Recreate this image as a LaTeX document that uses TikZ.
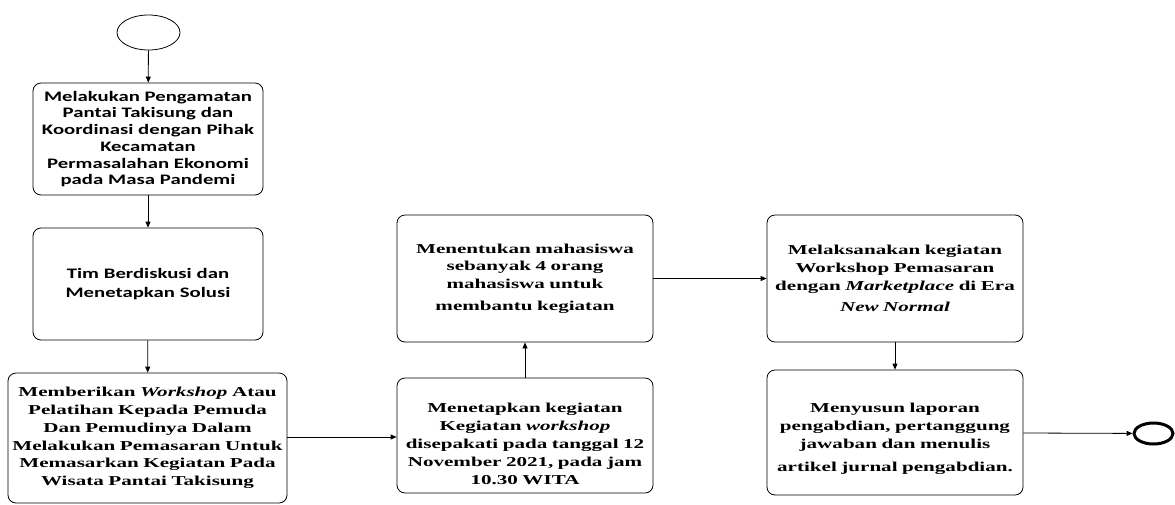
\documentclass[tikz,border=0pt]{standalone}
\usepackage{fontspec}
\usepackage{tikz}
\usetikzlibrary{shapes.geometric,arrows.meta,positioning}
\newfontfamily\calibrifont[FakeStretch=1.43]{Carlito Bold}
\newfontfamily\timesfont[FakeStretch=1.55, ItalicFont={Liberation Serif Bold Italic}]{Liberation Serif Bold}
\tikzset{
	box/.style={draw, rounded corners=8pt, line width=0.8pt, align=center, inner sep=0pt},
	sansbox/.style={box, font=\calibrifont\fontsize{14.5}{16.7}\selectfont},
	serifbox/.style={box, font=\timesfont\fontsize{13.6}{17.8}\selectfont},
	flow/.style={-{Triangle[length=6pt,width=5pt]}, line width=0.8pt},
}
\begin{document}
\begin{tikzpicture}[x=1pt,y=-1pt]
	\useasboundingbox (0,0) rectangle (1175,504);
	\node[draw, ellipse, line width=0.8pt, minimum width=63pt, minimum height=35pt] (start) at (148.5,32.5) {};
	\node[sansbox, minimum width=230pt, minimum height=112pt, text width=226pt] (b1) at (148,139) {Melakukan Pengamatan\\ Pantai Takisung dan\\ Koordinasi dengan Pihak\\ Kecamatan\\ Permasalahan Ekonomi\\ pada Masa Pandemi};
	\node[sansbox, minimum width=230pt, minimum height=112pt, text width=226pt] (b2) at (148,284) {Tim Berdiskusi dan\\[1.5pt] Menetapkan Solusi};
	\node[serifbox, minimum width=279pt, minimum height=130pt, text width=275pt] (b3) at (147.5,438) {Memberikan \textit{Workshop} Atau\\ Pelatihan Kepada Pemuda\\ Dan Pemudinya Dalam\\ Melakukan Pemasaran Untuk\\ Memasarkan Kegiatan Pada\\ Wisata Pantai Takisung};
	\node[serifbox, minimum width=256pt, minimum height=115pt, text width=250pt] (b4) at (525,435.5) {\rule{0pt}{26pt}Menetapkan kegiatan\\ Kegiatan \textit{workshop}\\ disepakati pada tanggal 12\\ November 2021, pada jam\\ 10.30 WITA};
	\node[serifbox, minimum width=256pt, minimum height=127pt, text width=250pt] (b5) at (525,278.5) {Menentukan mahasiswa\\ sebanyak 4 orang\\ mahasiswa untuk\\[4pt] membantu kegiatan};
	\node[serifbox, minimum width=256pt, minimum height=127pt, text width=250pt] (b6) at (895,278.5) {Melaksanakan kegiatan\\ Workshop Pemasaran\\ dengan \textit{Marketplace} di Era\\[4pt] \textit{New Normal}};
	\node[serifbox, minimum width=256pt, minimum height=125pt, text width=250pt] (b7) at (895,432.5) {\rule{0pt}{22pt}Menyusun laporan\\ pengabdian, pertanggung\\ jawaban dan menulis\\[5pt] artikel jurnal pengabdian.};
	\node[draw, ellipse, line width=3pt, minimum width=39pt, minimum height=21pt] (end) at (1153.5,433.5) {};
	\draw[flow] (start) -- (b1);
	\draw[flow] (b1) -- (b2);
	\draw[flow] (b2) -- (b3);
	\draw[flow] (b3.east |- 0,437) -- (b4.west |- 0,437);
	\draw[flow] (b4) -- (b5);
	\draw[flow] (b5) -- (b6);
	\draw[flow] (b6) -- (b7);
	\draw[flow] (b7) -- (end);
\end{tikzpicture}
\end{document}
